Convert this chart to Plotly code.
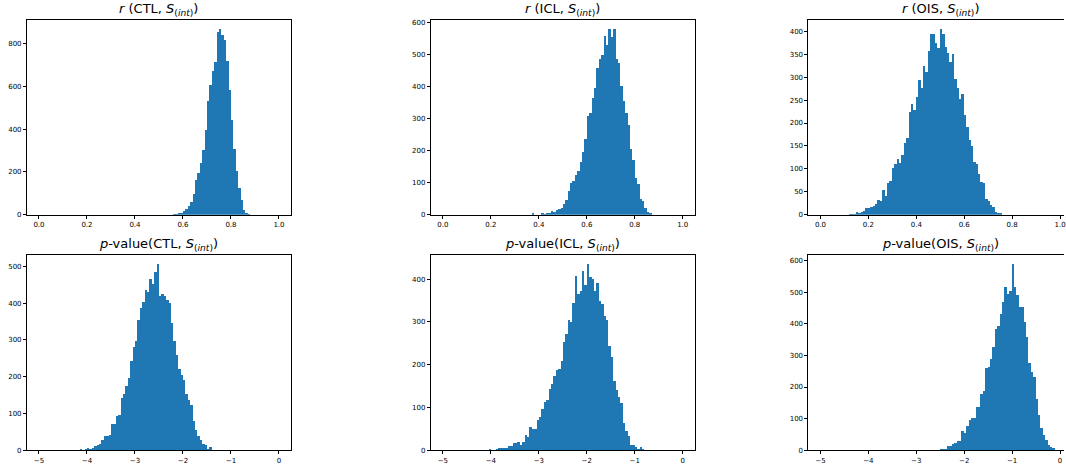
import plotly.graph_objects as go

BLUE = "#1f77b4"
W, H = 1066, 467

# ---------------- data (histogram counts) ----------------
r_bin_width = 0.01
p_bin_width = 0.05

r_ctl_start = 0.56
r_ctl_counts = [2, 1, 9, 10, 18, 29, 41, 60, 97, 165, 198, 245, 305, 397, 531, 609,
                674, 715, 854, 868, 840, 817, 720, 586, 445, 309, 205, 125, 69, 22, 10, 4]

r_icl_start = 0.37
r_icl_counts = [3, 0, 0, 0, 3, 1, 3, 3, 12, 9, 15, 17, 22, 34, 46, 74, 99, 105, 126, 136,
                166, 197, 237, 308, 318, 364, 397, 458, 487, 499, 559, 530, 580, 555, 580,
                487, 475, 404, 355, 318, 281, 207, 170, 114, 96, 49, 43, 22, 9, 3]

r_ois_start = 0.12
r_ois_counts = [1, 1, 1, 6, 5, 6, 9, 15, 15, 17, 19, 24, 32, 30, 54, 41, 69, 75, 103, 112,
                123, 114, 131, 157, 168, 224, 241, 228, 258, 295, 277, 325, 312, 357, 394,
                394, 376, 364, 405, 394, 366, 353, 333, 351, 297, 277, 252, 264, 217, 191,
                163, 150, 116, 112, 90, 71, 70, 34, 30, 21, 17, 6, 4, 2]

p_ctl_start = -4.15
p_ctl_counts = [2, 0, 1, 3, 2, 3, 10, 13, 17, 27, 38, 38, 40, 70, 70, 91, 94, 140, 153, 174,
                196, 242, 279, 295, 354, 387, 403, 435, 430, 464, 451, 483, 505, 419, 424,
                419, 408, 400, 344, 295, 258, 220, 204, 191, 153, 137, 121, 78, 54, 38, 27,
                17, 14, 2, 8]

p_icl_start = -4.05
p_icl_counts = [2, 0, 0, 2, 3, 4, 4, 4, 8, 9, 16, 16, 18, 12, 18, 35, 30, 53, 49, 49, 69, 76,
                95, 111, 116, 143, 155, 173, 187, 190, 208, 252, 271, 303, 298, 344, 407, 364,
                372, 418, 386, 434, 405, 400, 372, 391, 349, 340, 312, 303, 243, 217, 160,
                141, 123, 109, 62, 44, 32, 12, 12, 7, 2, 7, 2]

p_ois_start = -2.50
p_ois_counts = [2, 2, 2, 12, 12, 20, 23, 28, 28, 59, 53, 75, 94, 100, 100, 137, 137, 178, 187,
                259, 262, 287, 325, 384, 394, 431, 469, 516, 494, 503, 588, 516, 491, 453, 453,
                406, 359, 275, 247, 231, 162, 109, 69, 47, 31, 16, 9, 4]

titles = [
    "<i>r</i> (CTL, <i>S</i><sub>(<i>int</i>)</sub>)",
    "<i>r</i> (ICL, <i>S</i><sub>(<i>int</i>)</sub>)",
    "<i>r</i> (OIS, <i>S</i><sub>(<i>int</i>)</sub>)",
    "<i>p</i>-value(CTL, <i>S</i><sub>(<i>int</i>)</sub>)",
    "<i>p</i>-value(ICL, <i>S</i><sub>(<i>int</i>)</sub>)",
    "<i>p</i>-value(OIS, <i>S</i><sub>(<i>int</i>)</sub>)",
]

r_ticks = [0.0, 0.2, 0.4, 0.6, 0.8, 1.0]
p_ticks = [-5, -4, -3, -2, -1, 0]
y_dticks = [200, 100, 50, 100, 100, 100]

panels = [
    (r_ctl_start, r_bin_width, r_ctl_counts),
    (r_icl_start, r_bin_width, r_icl_counts),
    (r_ois_start, r_bin_width, r_ois_counts),
    (p_ctl_start, p_bin_width, p_ctl_counts),
    (p_icl_start, p_bin_width, p_icl_counts),
    (p_ois_start, p_bin_width, p_ois_counts),
]

# ---------------- layout geometry (pixels) ----------------
col_px = [(27, 291.5), (431.7, 696), (810, 1074)]
row_px = [(19, 216), (257, 454)]

fig = go.Figure()
layout = dict(
    width=W, height=H,
    margin=dict(l=0, r=0, t=0, b=0),
    paper_bgcolor="white", plot_bgcolor="white",
    showlegend=False, bargap=0,
    font=dict(family="DejaVu Sans", color="#000"),
    annotations=[],
)

for k, (start, w, counts) in enumerate(panels):
    row, col = divmod(k, 3)
    idx = "" if k == 0 else str(k + 1)
    xs = [start + (i + 0.5) * w for i in range(len(counts))]
    fig.add_trace(go.Bar(x=xs, y=counts, width=w, marker=dict(color=BLUE, line=dict(width=0)),
                         xaxis="x" + idx, yaxis="y" + idx))

    x0p, x1p = col_px[col]
    y0p, y1p = row_px[row]
    is_r = row == 0
    full_range = [-0.05, 1.05] if is_r else [-5.25, 0.25]
    # clip last column at the page edge (the picture is cut there)
    x1_vis = min(x1p, W)
    frac = (x1_vis - x0p) / (x1p - x0p)
    xr = [full_range[0], full_range[0] + frac * (full_range[1] - full_range[0])]
    ticks = r_ticks if is_r else p_ticks

    layout["xaxis" + idx] = dict(
        domain=[x0p / W, x1_vis / W], anchor="y" + idx, range=xr,
        tickvals=ticks,
        ticktext=[f"{t:.1f}" if is_r else (f"\u2212{abs(t)}" if t < 0 else f"{t}") for t in ticks],
        ticks="outside", ticklen=3, tickwidth=0.8, tickcolor="#000",
        ticklabeloverflow="allow",
        showline=True, linecolor="#000", linewidth=1, mirror=True,
        showgrid=False, zeroline=False, tickfont=dict(size=7, color="#000"),
    )
    ymax = max(counts) * 1.05
    layout["yaxis" + idx] = dict(
        domain=[1 - y1p / H, 1 - y0p / H], anchor="x" + idx, range=[0, ymax],
        dtick=y_dticks[k], tick0=0,
        ticks="outside", ticklen=3, tickwidth=0.8, tickcolor="#000",
        showline=True, linecolor="#000", linewidth=1, mirror=(col != 2),
        showgrid=False, zeroline=False, tickfont=dict(size=7, color="#000"),
    )
    layout["annotations"].append(dict(
        text=titles[k], xref="paper", yref="paper",
        x=((x0p + x1p) / 2) / W, y=1 - y0p / H, xanchor="center", yanchor="bottom",
        yshift=0, showarrow=False, font=dict(size=13, color="#000"),
    ))

fig.update_layout(**layout)
fig.write_html("out.html")
